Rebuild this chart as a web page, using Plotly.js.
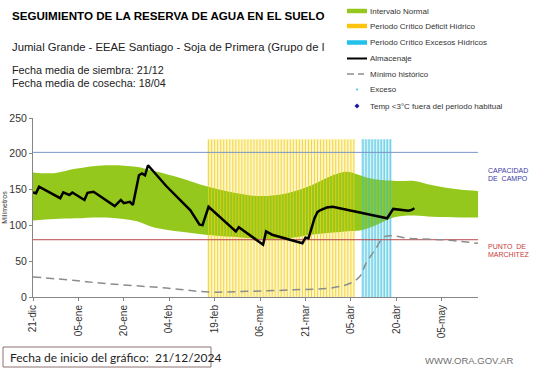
<!DOCTYPE html>
<html><head><meta charset="utf-8">
<script src="https://cdn.plot.ly/plotly-3.0.1.min.js"></script>
<style>html,body{margin:0;padding:0;background:#fff}#chart{width:541px;height:368px}</style>
</head><body><div id="chart"></div>
<script>
// ---------------- DATA ----------------
const bandDates = ['2024-12-21','2024-12-28','2025-01-04','2025-01-14','2025-01-24','2025-01-30','2025-02-08','2025-02-16','2025-02-25','2025-03-06','2025-03-15','2025-03-23','2025-03-30','2025-04-04','2025-04-08','2025-04-12','2025-04-20','2025-04-26','2025-05-02','2025-05-11','2025-05-17'];
const bandUpper = [174,173,179,184,182,176,166,155,146,141,145,156,170,175,170,165,162,162,156,150,148];
const bandLower = [107,109,110,111,106,97,91,87,84,81,82,87,90,92,93,98,112,114,112,111,111];

const storageDates = ['2024-12-21','2024-12-22','2024-12-23','2024-12-30','2024-12-31','2025-01-02','2025-01-03','2025-01-07','2025-01-08','2025-01-10','2025-01-17','2025-01-19','2025-01-20','2025-01-22','2025-01-23','2025-01-25','2025-01-26','2025-01-27','2025-01-28','2025-02-03','2025-02-11','2025-02-14','2025-02-15','2025-02-17','2025-02-26','2025-02-27','2025-03-07','2025-03-08','2025-03-10','2025-03-20','2025-03-21','2025-03-22','2025-03-24','2025-03-25','2025-03-26','2025-03-28','2025-03-30','2025-04-17','2025-04-19','2025-04-24','2025-04-25','2025-04-26'];
const storageValues = [146,145,154,138,146,142.5,146,135.5,145.5,147,127,135.5,131,133,128.5,170,172.5,170,184,155,121,101,100.5,126,91.5,97.5,73,91.5,87,75,83,82,110,119,121.5,125,126,110,123,120.5,121.5,124];

const minHistDates = ['2024-12-21','2025-01-04','2025-01-12','2025-02-03','2025-02-17','2025-03-03','2025-03-17','2025-03-30','2025-04-05','2025-04-08','2025-04-10','2025-04-13','2025-04-16','2025-04-19','2025-04-24','2025-05-05','2025-05-17'];
const minHistValues = [28,23,19.5,12.5,7,8,10,13,19.5,29,47,66,84,85.5,82,80,75];

const deficitDays = ['2025-02-17','2025-02-18','2025-02-19','2025-02-20','2025-02-21','2025-02-22','2025-02-23','2025-02-24','2025-02-25','2025-02-26','2025-02-27','2025-02-28',
 '2025-03-01','2025-03-02','2025-03-03','2025-03-04','2025-03-05','2025-03-06','2025-03-07','2025-03-08','2025-03-09','2025-03-10','2025-03-11','2025-03-12','2025-03-13','2025-03-14','2025-03-15','2025-03-16','2025-03-17','2025-03-18','2025-03-19','2025-03-20','2025-03-21','2025-03-22','2025-03-23','2025-03-24','2025-03-25','2025-03-26','2025-03-27','2025-03-28','2025-03-29','2025-03-30','2025-03-31',
 '2025-04-01','2025-04-02','2025-04-03','2025-04-04','2025-04-05','2025-04-06'];
const excessDays = ['2025-04-09','2025-04-10','2025-04-11','2025-04-12','2025-04-13','2025-04-14','2025-04-15','2025-04-16','2025-04-17','2025-04-18'];
const periodBarValue = 220;

const fieldCapacity = 202;
const wiltingPoint = 80;

const axisStart = '2024-12-21';
const axisEnd = '2025-05-17';
const tickDates = ['2024-12-21','2025-01-05','2025-01-20','2025-02-04','2025-02-19','2025-03-06','2025-03-21','2025-04-05','2025-04-20','2025-05-05'];
const tickLabels = ['21-dic','05-ene','20-ene','04-feb','19-feb','06-mar','21-mar','05-abr','20-abr','05-may'];
const yTicks = [0,50,100,150,200,250];

const legendLabels = ['Intervalo Normal','Periodo Crítico Déficit Hídrico','Periodo Crítico Excesos Hídricos','Almacenaje','Mínimo histórico','Exceso','Temp <3°C fuera del periodo habitual'];

// ---------------- STYLE / LAYOUT HELPERS ----------------
const FONT = 'Liberation Sans, Arial, sans-serif';
const W = 541, H = 368;
const M = {l:33, r:63, t:118, b:71};
const PW = W - M.l - M.r, PH = H - M.t - M.b;
const px = x => (x - M.l) / PW;
const py = y => (H - M.b - y) / PH;

const GREEN = '#95c81c';
const DAY = 86400000;

function stripes(days, v){
  const x = [], y = [];
  days.forEach(d => { x.push(d, d, null); y.push(0, v, null); });
  return {x, y};
}

const defS = stripes(deficitDays, periodBarValue);
const excS = stripes(excessDays, periodBarValue);

const traces = [
  {type:'bar', x:deficitDays, y:deficitDays.map(()=>periodBarValue), width:DAY, marker:{color:'#fdf6cc', line:{width:0}}, hoverinfo:'skip', showlegend:false},
  {type:'bar', x:excessDays, y:excessDays.map(()=>periodBarValue), width:DAY, marker:{color:'#d4f1f8', line:{width:0}}, hoverinfo:'skip', showlegend:false},
  {type:'scatter', mode:'lines', x:bandDates, y:bandLower, line:{width:0, shape:'spline'}, showlegend:false, hoverinfo:'skip'},
  {type:'scatter', mode:'lines', x:bandDates, y:bandUpper, fill:'tonexty', fillcolor:GREEN, line:{width:0, shape:'spline'}, name:legendLabels[0], showlegend:false},
  {type:'scatter', mode:'lines', x:defS.x, y:defS.y, line:{color:'rgba(243,206,20,0.8)', width:1}, showlegend:false, hoverinfo:'skip'},
  {type:'scatter', mode:'lines', x:excS.x, y:excS.y, line:{color:'rgba(48,190,220,0.85)', width:1}, showlegend:false, hoverinfo:'skip'},
  {type:'scatter', mode:'lines', x:[axisStart, axisEnd], y:[fieldCapacity, fieldCapacity], line:{color:'#7895c8', width:1}, showlegend:false},
  {type:'scatter', mode:'lines', x:[axisStart, axisEnd], y:[wiltingPoint, wiltingPoint], line:{color:'#b8474a', width:1}, showlegend:false},
  {type:'scatter', mode:'lines', x:minHistDates, y:minHistValues, line:{color:'#8c8c8c', width:1.5, dash:'8px,5px', shape:'spline'}, name:legendLabels[4], showlegend:false},
  {type:'scatter', mode:'lines', x:storageDates, y:storageValues, line:{color:'#000', width:2.5}, name:legendLabels[3], showlegend:false}
];

// ---- custom legend (positions in pixels) ----
const rowsY = [11, 26, 42.5, 58.5, 74, 89.5, 106];
const swX0 = 347, swX1 = 367, txtX = 368;
const shapes = [
  {type:'line', xref:'paper', yref:'paper', x0:px(swX0), x1:px(swX1), y0:py(rowsY[0]), y1:py(rowsY[0]), line:{color:GREEN, width:4.5}},
  {type:'line', xref:'paper', yref:'paper', x0:px(swX0), x1:px(swX1), y0:py(rowsY[1]), y1:py(rowsY[1]), line:{color:'#fcc40a', width:4.5}},
  {type:'line', xref:'paper', yref:'paper', x0:px(swX0), x1:px(swX1), y0:py(rowsY[2]), y1:py(rowsY[2]), line:{color:'#22c0ea', width:4.5}},
  {type:'line', xref:'paper', yref:'paper', x0:px(swX0), x1:px(swX1), y0:py(rowsY[3]), y1:py(rowsY[3]), line:{color:'#000', width:2}},
  {type:'line', xref:'paper', yref:'paper', x0:px(swX0), x1:px(swX0+7), y0:py(rowsY[4]), y1:py(rowsY[4]), line:{color:'#8c8c8c', width:1.5}},
  {type:'line', xref:'paper', yref:'paper', x0:px(swX0+11), x1:px(swX0+17), y0:py(rowsY[4]), y1:py(rowsY[4]), line:{color:'#8c8c8c', width:1.5}},
  {type:'circle', xref:'paper', yref:'paper', x0:px(356), x1:px(358), y0:py(rowsY[5]+1), y1:py(rowsY[5]-1), fillcolor:'#33c4e8', line:{width:0}},
  {type:'path', xref:'paper', yref:'paper', path:`M ${px(357)} ${py(rowsY[6]-2.5)} L ${px(359.5)} ${py(rowsY[6])} L ${px(357)} ${py(rowsY[6]+2.5)} L ${px(354.5)} ${py(rowsY[6])} Z`, fillcolor:'#1a1a9a', line:{width:0}},
  // start-date box
  {type:'rect', xref:'paper', yref:'paper', x0:px(3), x1:px(211), y0:py(347), y1:py(367), line:{color:'#8f7272', width:1}, fillcolor:'rgba(0,0,0,0)'}
];

const ann = (x, y, text, font, extra) => Object.assign({xref:'paper', yref:'paper', x:px(x), y:py(y), text, showarrow:false, xanchor:'left', yanchor:'middle', font:Object.assign({family:FONT}, font)}, extra||{});

const annotations = [
  ann(10, 46.7, 'Jumial Grande - EEAE Santiago - Soja de Primera (Grupo de I', {size:11.3, color:'#222'}),
  ann(10, 70, 'Fecha media de siembra: 21/12', {size:10.8, color:'#222'}),
  ann(10, 82.6, 'Fecha media de cosecha: 18/04', {size:10.8, color:'#222'}),
  ann(486, 170.7, 'CAPACIDAD', {size:7, color:'#3a3aa8'}),
  ann(486, 178.3, 'DE  CAMPO', {size:7, color:'#3a3aa8'}),
  ann(486, 246.7, 'PUNTO  DE', {size:7, color:'#c83a3a'}),
  ann(486, 254.7, 'MARCHITEZ', {size:7, color:'#c83a3a'}),
  ann(8, 357, 'Fecha de inicio del gráfico:&nbsp;&nbsp;21/12/2024', {size:12, color:'#222', family:'Lato, sans-serif'}),
  ann(423, 360, 'WWW.ORA.GOV.AR', {size:9.5, color:'#707070'})
];
legendLabels.forEach((t, i) => annotations.push(ann(txtX, rowsY[i], t, {size:8, color:'#333'})));

const layout = {
  width: W, height: H,
  margin: Object.assign({autoexpand:false, pad:0}, M),
  paper_bgcolor:'#fff', plot_bgcolor:'#fff',
  showlegend:false,
  bargap:0,
  font:{family:FONT, color:'#333'},
  title:{text:'<b>SEGUIMIENTO DE LA RESERVA DE AGUA EN EL SUELO</b>', xref:'container', yref:'container', x:12/W, xanchor:'left', y:1-15.7/H, yanchor:'middle', font:{family:FONT, size:11.6, color:'#000'}},
  xaxis:{type:'date', range:[axisStart, axisEnd], tickvals:tickDates, ticktext:tickLabels, tickangle:-90,
         showgrid:false, zeroline:false, showline:true, linecolor:'#868686', linewidth:1,
         ticks:'outside', ticklen:3, tickcolor:'#868686', tickfont:{family:FONT, size:10, color:'#333'}, fixedrange:true},
  yaxis:{range:[0,250], tickvals:yTicks, showgrid:false, zeroline:false, showline:true, linecolor:'#868686', linewidth:1,
         ticks:'outside', ticklen:3, tickcolor:'#868686', tickfont:{family:FONT, size:10.5, color:'#333'},
         title:{text:'Milímetros', font:{family:FONT, size:7, color:'#333'}, standoff:0}, fixedrange:true},
  shapes, annotations
};

Plotly.newPlot('chart', traces, layout, {staticPlot:true, displayModeBar:false});
</script>
</body></html>
